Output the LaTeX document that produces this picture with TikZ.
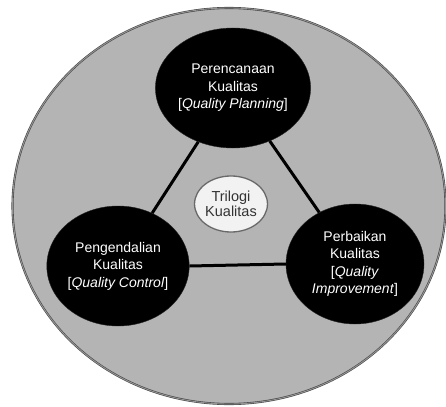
\documentclass[tikz,border=0pt]{standalone}
\usepackage{fontspec}
\setmainfont{Liberation Sans}
\usetikzlibrary{shapes.geometric}
\definecolor{bggray}{RGB}{180,180,180}
\definecolor{rimgray}{RGB}{70,70,70}
\definecolor{rimlight}{RGB}{150,150,150}
\definecolor{centerfill}{RGB}{242,242,242}
\definecolor{centerdraw}{RGB}{105,105,105}
\tikzset{
  rim/.style={ellipse, fill=bggray, draw=rimgray, line width=0.6pt, double=rimlight, double distance=0.9pt, inner sep=0pt, minimum width=433pt, minimum height=396pt},
  pillar/.style={ellipse, fill=black, draw=black!85, minimum width=138pt, minimum height=120pt, inner sep=0pt, text=white, align=center, font=\fontsize{14}{17.5}\selectfont},
  core/.style={ellipse, fill=centerfill, draw=centerdraw, line width=1.3pt, minimum width=64pt, minimum height=56pt, inner sep=0pt, text=black!80, align=center, font=\fontsize{14.5}{15.5}\selectfont},
  link/.style={line width=3pt, draw=black}
}
\begin{document}
\begin{tikzpicture}[x=1pt, y=-1pt]
\useasboundingbox (0,0) rectangle (446,406);
\node[rim] (outer) at (229,206) {};
\node[pillar] (plan) at (233,88) {Perencanaan\\Kualitas\\{[}\textit{Quality Planning}{]}};
\node[pillar] (ctrl) at (118,266) {Pengendalian\\Kualitas\\{[}\textit{Quality Control}{]}};
\node[pillar] (impr) at (355,264) {Perbaikan\\Kualitas\\{[}\textit{Quality}\\\textit{Improvement}{]}};
\node[core] (tri) at (231,204) {Trilogi\\Kualitas};
\draw[link] (plan) -- (ctrl);
\draw[link] (plan) -- (impr);
\draw[link] (ctrl.east) -- (impr.west);
\end{tikzpicture}
\end{document}
